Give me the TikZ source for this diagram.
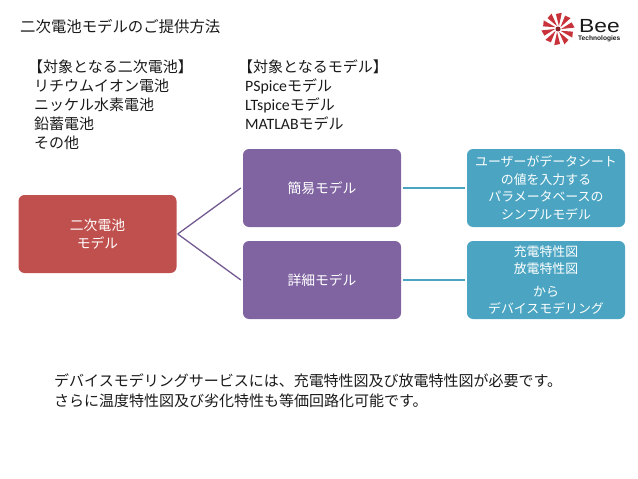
\documentclass[tikz,border=0pt]{standalone}
\usepackage{fontspec}
\setmainfont{Noto Sans CJK JP}
\newfontfamily\latn{Carlito}
\newfontfamily\logofont{Liberation Sans}
\newcommand{\lat}[1]{{\latn\fontsize{15.8}{15.8}\selectfont #1}}
\definecolor{redbox}{HTML}{C0504D}
\definecolor{purplebox}{HTML}{8064A2}
\definecolor{tealbox}{HTML}{4BA5C2}
\definecolor{logored}{HTML}{C8323A}
\definecolor{ink}{HTML}{1A1A1A}
\tikzset{
  body/.style={anchor=west,inner sep=0pt,text=ink,font=\fontsize{15}{15}\selectfont},
  box/.style={rounded corners=6pt,minimum width=158pt,minimum height=78pt,inner sep=0pt,
    text=white,align=center,font=\fontsize{13.8}{17.5}\selectfont},
  tealnode/.style={box,fill=tealbox,font=\fontsize{12.9}{17.6}\selectfont},
  link/.style={line width=1.3pt},
}
\begin{document}
\begin{tikzpicture}[x=1pt,y=-1pt]
  \useasboundingbox (0,0) rectangle (638,479);
  \node[body,font=\fontsize{15.4}{15.4}\selectfont] (title) at (20,27) {二次電池モデルのご提供方法};
  % left list
  \node[body] (head1) at (28,67) {【対象となる二次電池】};
  \node[body] (item1) at (34,86) {リチウムイオン電池};
  \node[body] (item2) at (34,105) {ニッケル水素電池};
  \node[body] (item3) at (34,124) {鉛蓄電池};
  \node[body] (item4) at (34,143) {その他};
  % right list
  \node[body] (head2) at (238,67) {【対象となるモデル】};
  \node[body] (model1) at (245,86) {\lat{PSpice}モデル};
  \node[body] (model2) at (245,105) {\lat{LTspice}モデル};
  \node[body] (model3) at (245,124) {\lat{MATLAB}モデル};
  % boxes
  \node[box,fill=redbox] (root) at (97.5,234) {二次電池\\モデル};
  \node[box,fill=purplebox] (simple) at (322,188) {簡易モデル};
  \node[box,fill=purplebox] (detail) at (322,280) {詳細モデル};
  \node[tealnode] (simpletxt) at (546,188)
    {ユーザーがデータシート\\の値を入力する\\パラメータベースの\\シンプルモデル};
  \node[tealnode,font=\fontsize{12.9}{16.6}\selectfont] (detailtxt) at (546,280)
    {充電特性図\\放電特性図\\[7pt]から\\デバイスモデリング};
  % connectors
  \draw[link,purplebox!90!black] ([xshift=1pt]root.east) -- ([xshift=-2pt]simple.west);
  \draw[link,purplebox!90!black] ([xshift=1pt]root.east) -- ([xshift=-2pt]detail.west);
  \draw[link,tealbox] ([xshift=2pt]simple.east) -- ([xshift=-2pt]simpletxt.west);
  \draw[link,tealbox] ([xshift=2pt]detail.east) -- ([xshift=-2pt]detailtxt.west);
  % bottom text
  \node[body] (note1) at (54,381) {デバイスモデリングサービスには、充電特性図及び放電特性図が必要です。};
  \node[body] (note2) at (54,401) {さらに温度特性図及び劣化特性も等価回路化可能です。};
  % logo
  \coordinate (star) at (558,29);
  \foreach \a in {0,36,...,324}
    \fill[logored] (star) ++(\a:3pt) -- ++(\a+32:12.5pt) -- ++(\a-60:6pt) -- cycle;
  \fill[logored!70!black] (star) circle (2.5pt);
  \node[anchor=west,inner sep=0pt,text=ink,xscale=1.2,font=\logofont\fontsize{19}{19}\selectfont] (logoname) at (579,26) {Bee};
  \node[anchor=west,inner sep=0pt,text=ink,font=\logofont\bfseries\fontsize{6.6}{7}\selectfont] (logosub) at (578,39) {Technologies};
\end{tikzpicture}
\end{document}
